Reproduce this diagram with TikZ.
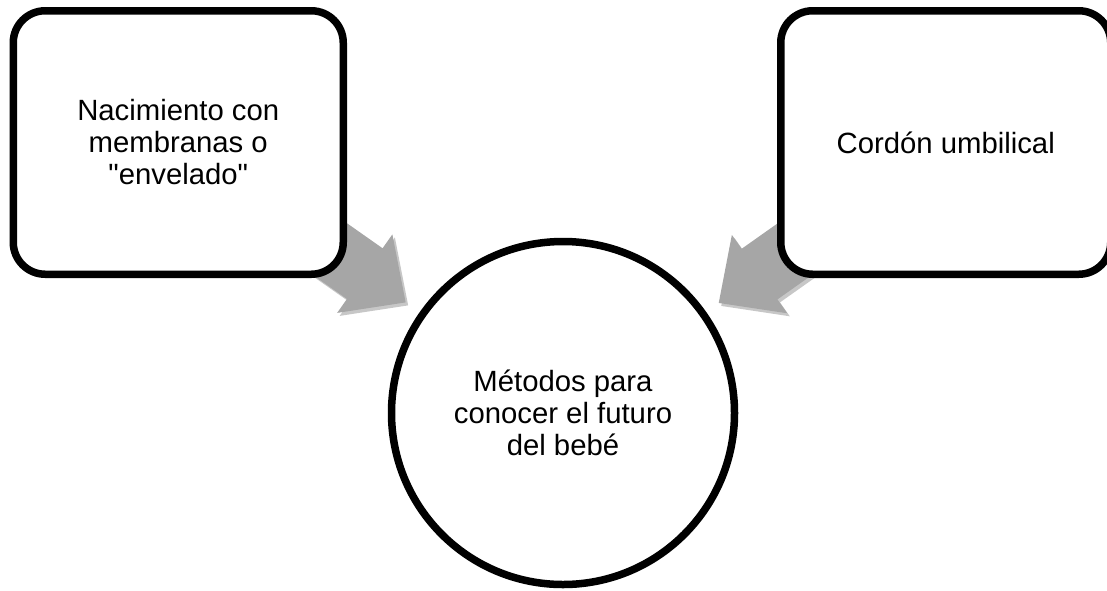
\documentclass[tikz,border=0pt]{standalone}
\usepackage{fontspec}
\setmainfont{Liberation Sans}[Ligatures=TeXOff]
\usetikzlibrary{calc,shadows}
\definecolor{arrowgray}{HTML}{A6A6A6}
\begin{document}
\begin{tikzpicture}[x=1pt,y=-1pt,
  txt/.style={font=\fontsize{29.3pt}{32pt}\selectfont, align=center, text=black},
  softshadow/.style={drop shadow={opacity=0.22,shadow xshift=2.5pt,shadow yshift=-3pt,fill=black}},
  boxnode/.style={txt, draw=black, fill=white, line width=7.5pt, rounded corners=32pt,
    minimum width=330pt, minimum height=263.5pt, inner sep=0pt, softshadow},
  circnode/.style={txt, circle, draw=black, fill=white, line width=7.5pt,
    minimum size=343pt, inner sep=0pt, softshadow},
  blockarrow/.style={fill=arrowgray, draw=none, softshadow}
]
\useasboundingbox (0,0) rectangle (1107,590);
\coordinate (Lc) at (178.25,142.5);
\coordinate (Rc) at (945.75,142.5);
\coordinate (Cc) at (563,413);
% block arrows (behind shapes)
\coordinate (la) at ($(Lc)!228pt!(Cc)$);
\coordinate (lt) at ($(Lc)!278pt!(Cc)$);
\fill[blockarrow] ($(Lc)!31pt!90:(Cc)$) -- ($(la)!31pt!90:(Cc)$) -- ($(la)!48pt!90:(Cc)$) -- (lt)
  -- ($(la)!48pt!-90:(Cc)$) -- ($(la)!31pt!-90:(Cc)$) -- ($(Lc)!31pt!-90:(Cc)$) -- cycle;
\coordinate (ra) at ($(Rc)!228pt!(Cc)$);
\coordinate (rt) at ($(Rc)!278pt!(Cc)$);
\fill[blockarrow] ($(Rc)!31pt!90:(Cc)$) -- ($(ra)!31pt!90:(Cc)$) -- ($(ra)!48pt!90:(Cc)$) -- (rt)
  -- ($(ra)!48pt!-90:(Cc)$) -- ($(ra)!31pt!-90:(Cc)$) -- ($(Rc)!31pt!-90:(Cc)$) -- cycle;
% nodes
\node[boxnode] (L) at (Lc) {Nacimiento con\\membranas o\\"envelado"};
\node[boxnode] (R) at (Rc) {Cordón umbilical};
\node[circnode] (C) at (Cc) {Métodos para\\conocer el futuro\\del bebé};
\end{tikzpicture}
\end{document}
